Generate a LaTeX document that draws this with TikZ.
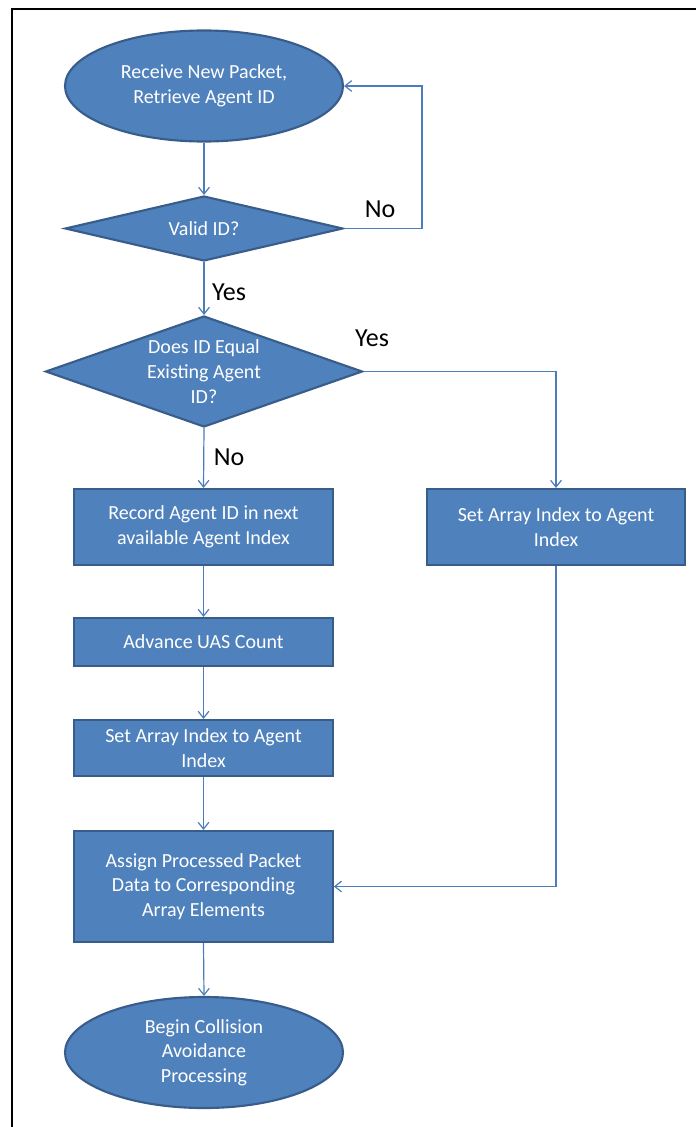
\documentclass[tikz,border=0pt]{standalone}
\usepackage{fontspec}
\setmainfont{Carlito}
\usetikzlibrary{shapes.geometric,arrows.meta}
\definecolor{boxfill}{HTML}{4F81BD}
\definecolor{boxline}{HTML}{385D8A}
\definecolor{flowline}{HTML}{4A7EBB}
\tikzset{
  shapebase/.style={fill=boxfill, draw=boxline, line width=1.6pt, inner sep=0pt,
    text=white, align=center, font=\fontsize{15}{18.5}\selectfont},
  terminal/.style={shapebase, ellipse, minimum width=208.5pt, minimum height=83.25pt},
  stepbox/.style={shapebase, rectangle, minimum width=194pt},
  decision/.style={shapebase, diamond},
  inside/.style={text=white, align=center, font=\fontsize{15}{18.5}\selectfont, inner sep=0pt},
  flow/.style={draw=flowline, line width=0.9pt, -{Straight Barb[length=5pt,width=8pt]}},
  answer/.style={font=\fontsize{19.5}{22}\selectfont, text=black, inner sep=0pt}
}
\begin{document}
\begin{tikzpicture}[x=0.75pt, y=-0.75pt]
\useasboundingbox (0,0) rectangle (696,1127);
% page frame (top and left edges)
\draw[line width=2.2pt, black] (12,1127) -- (12,9) -- (696,9);

% process nodes
\node[terminal] (start) at (204,86) {Receive New Packet,\\Retrieve Agent ID};
\node[decision, minimum width=208.5pt, minimum height=48.75pt] (valid) at (204,228.5) {};
\node[inside] (validtext) at (valid.center) {Valid ID?};
\node[decision, minimum width=237.75pt, minimum height=83.25pt] (exists) at (204,371.5) {};
\node[inside] (existstext) at (exists.center) {Does ID Equal\\Existing Agent\\ID?};
\node[stepbox, minimum height=57pt] (record) at (203.5,527) {Record Agent ID in next\\available Agent Index};
\node[stepbox, minimum height=57pt] (setright) at (556,527) {Set Array Index to Agent\\Index};
\node[stepbox, minimum height=36pt] (advance) at (203.5,642) {Advance UAS Count};
\node[stepbox, minimum height=42pt] (setleft) at (203.5,748) {Set Array Index to Agent\\Index};
\node[stepbox, minimum height=83.25pt] (assign) at (203.5,886.5) {Assign Processed Packet\\Data to Corresponding\\Array Elements};
\node[terminal] (finish) at (204,1052.5) {Begin Collision\\Avoidance\\Processing};

% connectors
\draw[flow] (start.south) -- (valid.north);
\draw[flow] (valid.east) -- (422,228.5) |- (start.east);
\draw[flow] (valid.south) -- (exists.north);
\draw[flow] (exists.east) -| (setright.north);
\draw[flow] (exists.south) -- (record.north);
\draw[flow] (record.south) -- (advance.north);
\draw[flow] (advance.south) -- (setleft.north);
\draw[flow] (setleft.south) -- (assign.north);
\draw[flow] (setright.south) |- (assign.east);
\draw[flow] (assign.south) -- (finish.north);

% branch answers
\node[answer] (noloop) at (380,209) {No};
\node[answer] (yesdown) at (229,292) {Yes};
\node[answer] (yesright) at (372,338) {Yes};
\node[answer] (nodown) at (229,457) {No};
\end{tikzpicture}
\end{document}
